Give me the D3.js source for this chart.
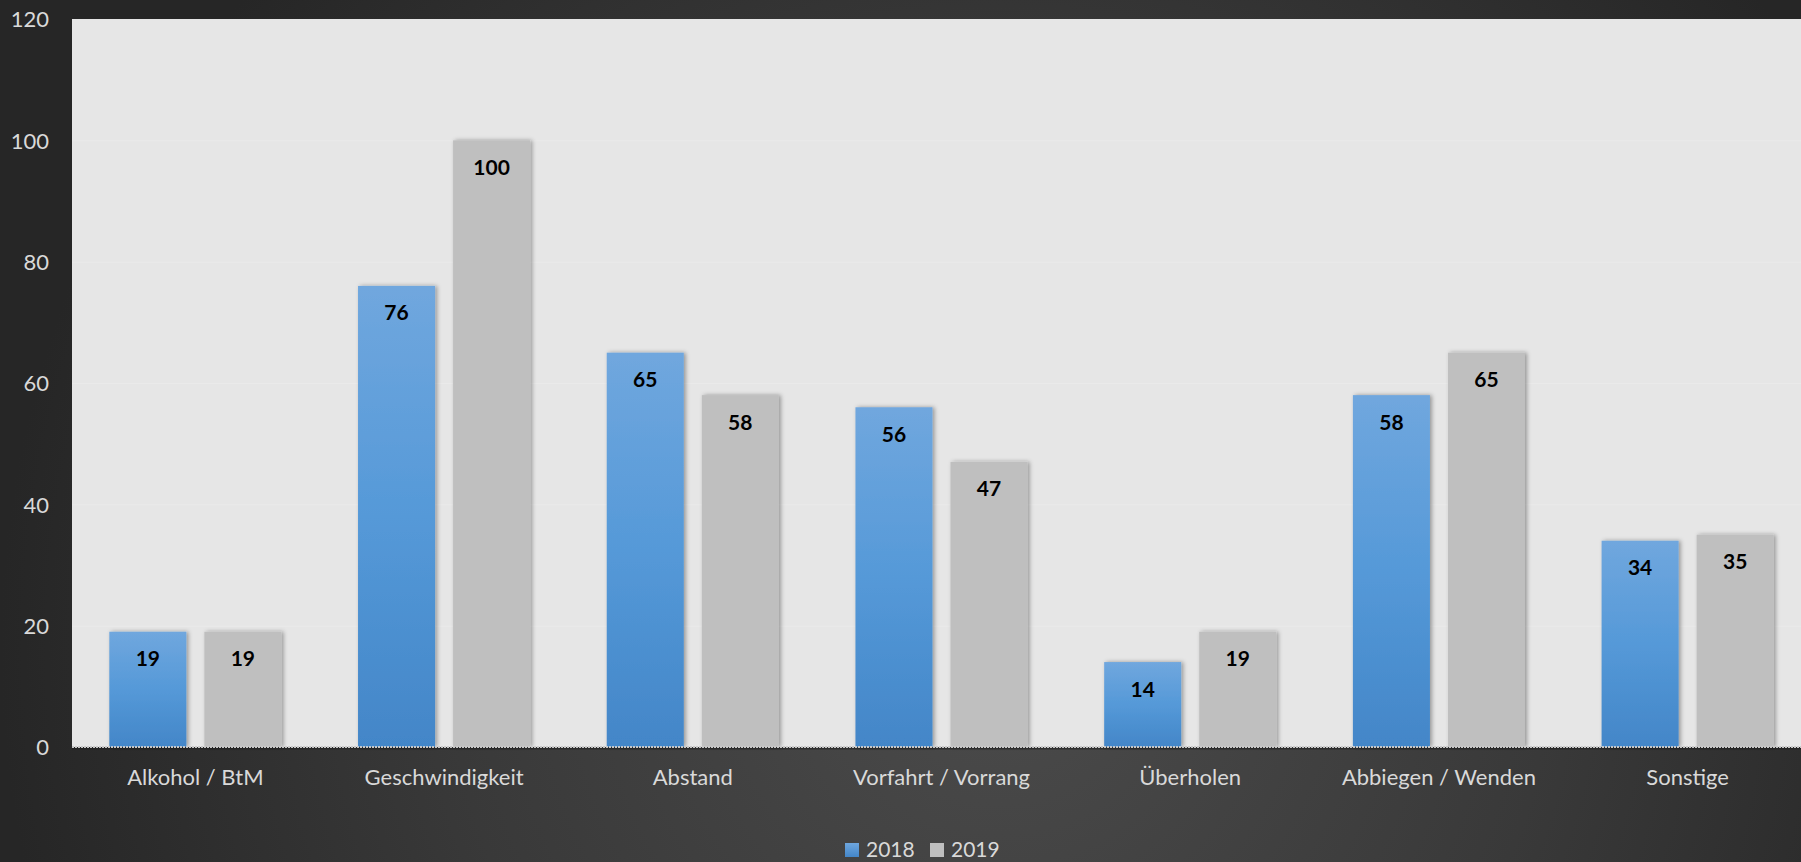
<!DOCTYPE html>
<html>
<head>
<meta charset="utf-8">
<script src="https://cdn.jsdelivr.net/npm/d3@7"></script>
<style>
  html, body { margin: 0; padding: 0; background: #2b2b2b; overflow: hidden; }
  svg { display: block; font-family: Lato, "Open Sans", sans-serif; }
</style>
</head>
<body>
<svg id="chart" width="1801" height="862"></svg>
<script>
const categories = ["Alkohol / BtM", "Geschwindigkeit", "Abstand", "Vorfahrt / Vorrang", "Überholen", "Abbiegen / Wenden", "Sonstige"];
const seriesNames = ["2018", "2019"];
const values2018 = [19, 76, 65, 56, 14, 58, 34];
const values2019 = [19, 100, 58, 47, 19, 65, 35];
const yTicks = [0, 20, 40, 60, 80, 100, 120];

const W = 1801, H = 862;
// plot area continues slightly beyond the right edge of the picture
const plot = { left: 72, top: 19, right: 1812, bottom: 747 };
const bandStart = 71;

const svg = d3.select("#chart");
const defs = svg.append("defs");

const bg = defs.append("radialGradient").attr("id", "bg")
  .attr("gradientUnits", "userSpaceOnUse")
  .attr("cx", 1000).attr("cy", 650).attr("r", 1000);
bg.append("stop").attr("offset", "0").attr("stop-color", "#4b4b4b");
bg.append("stop").attr("offset", "0.55").attr("stop-color", "#393939");
bg.append("stop").attr("offset", "1").attr("stop-color", "#262626");

const blue = defs.append("linearGradient").attr("id", "blueGrad")
  .attr("x1", 0).attr("y1", 0).attr("x2", 0).attr("y2", 1);
blue.append("stop").attr("offset", "0").attr("stop-color", "#70a7de");
blue.append("stop").attr("offset", "0.5").attr("stop-color", "#5599d8");
blue.append("stop").attr("offset", "1").attr("stop-color", "#4386c8");

const legendBlue = defs.append("linearGradient").attr("id", "legBlue")
  .attr("x1", 0).attr("y1", 0).attr("x2", 0).attr("y2", 1);
legendBlue.append("stop").attr("offset", "0").attr("stop-color", "#6ea6de");
legendBlue.append("stop").attr("offset", "1").attr("stop-color", "#4386c8");

const shadow = defs.append("filter").attr("id", "shadow")
  .attr("x", "-20%").attr("y", "-5%").attr("width", "140%").attr("height", "110%");
shadow.append("feDropShadow").attr("dx", 2).attr("dy", 0).attr("stdDeviation", 2)
  .attr("flood-color", "#000").attr("flood-opacity", 0.35);

svg.append("rect").attr("width", W).attr("height", H).attr("fill", "url(#bg)");

// plot area
svg.append("rect")
  .attr("x", plot.left).attr("y", plot.top)
  .attr("width", plot.right - plot.left).attr("height", plot.bottom - plot.top)
  .attr("fill", "#e6e6e6");

const y = d3.scaleLinear().domain([0, 120]).range([plot.bottom, plot.top]);
const x0 = d3.scaleBand().domain(categories).range([bandStart, plot.right]).padding(0);
const x1 = d3.scaleBand().domain(seriesNames).range([0, x0.bandwidth()])
  .paddingInner(18 / 95).paddingOuter(38.3 / 95);

// gridlines
svg.append("g").selectAll("line").data(yTicks.filter(d => d > 0 && d < 120)).join("line")
  .attr("x1", plot.left).attr("x2", plot.right)
  .attr("y1", d => y(d) + 0.5).attr("y2", d => y(d) + 0.5)
  .attr("stroke", "#eaeaea").attr("stroke-width", 1);

// y axis labels
const yAxis = d3.axisLeft(y).tickValues(yTicks).tickSize(0).tickPadding(0);
const yg = svg.append("g").attr("transform", `translate(49,0)`).call(yAxis);
yg.select(".domain").remove();
yg.selectAll("text").attr("fill", "#d9d9d9").attr("font-size", 22)
  .attr("font-family", "Lato, sans-serif").attr("dy", "0.36em");

// bars
const data = categories.map((c, i) => ({ cat: c, vals: [
  { s: "2018", v: values2018[i] }, { s: "2019", v: values2019[i] }] }));

const groups = svg.append("g").selectAll("g").data(data).join("g")
  .attr("transform", d => `translate(${x0(d.cat)},0)`);

groups.selectAll("rect").data(d => d.vals).join("rect")
  .attr("x", d => x1(d.s))
  .attr("y", d => y(d.v))
  .attr("width", x1.bandwidth())
  .attr("height", d => y(0) - y(d.v))
  .attr("fill", d => d.s === "2018" ? "url(#blueGrad)" : "#bfbfbf")
  .attr("filter", "url(#shadow)");

groups.selectAll("text").data(d => d.vals).join("text")
  .attr("x", d => x1(d.s) + x1.bandwidth() / 2)
  .attr("y", d => y(d.v) + 27)
  .attr("dy", "0.36em")
  .attr("text-anchor", "middle")
  .attr("font-size", 21).attr("font-weight", "bold").attr("fill", "#000")
  .text(d => d.v);

// zero axis line
svg.append("line").attr("x1", plot.left).attr("x2", plot.right)
  .attr("y1", plot.bottom + 1.5).attr("y2", plot.bottom + 1.5)
  .attr("stroke", "#1f1f1f").attr("stroke-width", 2).attr("opacity", 0.6);
svg.append("line").attr("x1", plot.left).attr("x2", plot.right)
  .attr("y1", plot.bottom).attr("y2", plot.bottom)
  .attr("stroke", "#c8c8c8").attr("stroke-width", 2).attr("stroke-dasharray", "2,1");

// x axis labels
const xAxis = d3.axisBottom(x0).tickSize(0).tickPadding(0);
const xg = svg.append("g").attr("transform", `translate(0,${plot.bottom})`).call(xAxis);
xg.select(".domain").remove();
xg.selectAll("text").attr("fill", "#d9d9d9").attr("font-size", 22)
  .attr("font-family", "Lato, sans-serif").attr("dy", null).attr("y", 38);

// legend
const legend = [
  { name: "2018", fill: "url(#legBlue)", x: 845 },
  { name: "2019", fill: "#bfbfbf", x: 930 }
];
const lg = svg.append("g").selectAll("g").data(legend).join("g")
  .attr("transform", d => `translate(${d.x},843)`);
lg.append("rect").attr("width", 14).attr("height", 14).attr("fill", d => d.fill);
lg.append("text").attr("x", 21).attr("y", 14).attr("font-size", 21)
  .attr("fill", "#d9d9d9").text(d => d.name);
</script>
</body>
</html>
